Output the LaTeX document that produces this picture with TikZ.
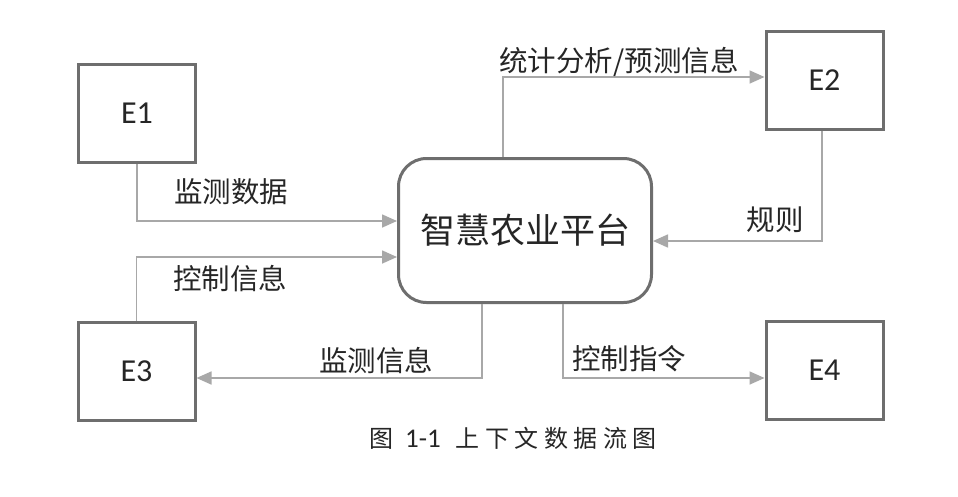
\documentclass[tikz,border=0pt]{standalone}
\usepackage{fontspec}
\setmainfont{Carlito}
\newfontfamily\cjk{Noto Sans CJK SC}
\usetikzlibrary{arrows.meta}
\newcommand{\cs}{\hspace{5.5pt}}
\begin{document}
\begin{tikzpicture}[x=1pt,y=-1pt,
  entity/.style={draw=boxgray,line width=3pt,fill=white,minimum width=117pt,minimum height=98pt,
    inner sep=0pt,font=\fontsize{32}{36}\selectfont,text=black!85},
  hubbox/.style={draw=boxgray,line width=3pt,rounded corners=28pt,minimum width=253pt,minimum height=144pt,
    inner sep=0pt,font=\cjk\fontsize{35}{40}\selectfont,text=black!85},
  flow/.style={draw=linegray,line width=1.6pt,-{Triangle[length=15pt,width=13pt]}},
  lbl/.style={inner sep=0pt,font=\cjk\fontsize{28.5}{32}\selectfont,text=black!85},
  capt/.style={inner sep=0pt,font=\fontsize{27}{30}\selectfont,text=black!85}]
\definecolor{boxgray}{HTML}{6E6E6E}
\definecolor{linegray}{HTML}{A8A8A8}
\useasboundingbox[fill=white] (0,0) rectangle (958,496);

% external entities and the central platform
\node[entity] (E1) at (137,113.5) {E1};
\node[entity] (E2) at (824.5,80.5) {E2};
\node[entity] (E3) at (136.5,371) {E3};
\node[entity] (E4) at (824.5,370.5) {E4};
\node[hubbox] (hub) at (525,230.5) {智慧农业平台};

% data flows
\draw[flow] (E1.south) |- ([yshift=9.5pt]hub.west);
\draw[flow] (E3.north) |- ([yshift=-26.5pt]hub.west);
\draw[flow] ([xshift=-22pt]hub.north) |- ([yshift=3.5pt]E2.west);
\draw[flow] ([xshift=-2.5pt]E2.south) |- ([yshift=-10.5pt]hub.east);
\draw[flow] ([xshift=-43pt]hub.south) |- ([yshift=-7pt]E3.east);
\draw[flow] ([xshift=38pt]hub.south) |- ([yshift=-7.5pt]E4.west);

% flow labels
\node[lbl] (l1) at (231,192) {监测数据};
\node[lbl] (l2) at (230,279) {控制信息};
\node[lbl] (l3) at (619,62) {统计分析/预测信息};
\node[lbl] (l4) at (775,220) {规则};
\node[lbl] (l5) at (376,361) {监测信息};
\node[lbl] (l6) at (629,359) {控制指令};

% caption, set with widened character spacing
\node[capt] (cap) at (513,438)
  {{\cjk\fontsize{24}{28}\selectfont 图}\hspace{12pt}1-1\hspace{15pt}{\cjk\fontsize{24}{28}\selectfont
   上\cs 下\cs 文\cs 数\cs 据\cs 流\cs 图}};
\end{tikzpicture}
\end{document}
